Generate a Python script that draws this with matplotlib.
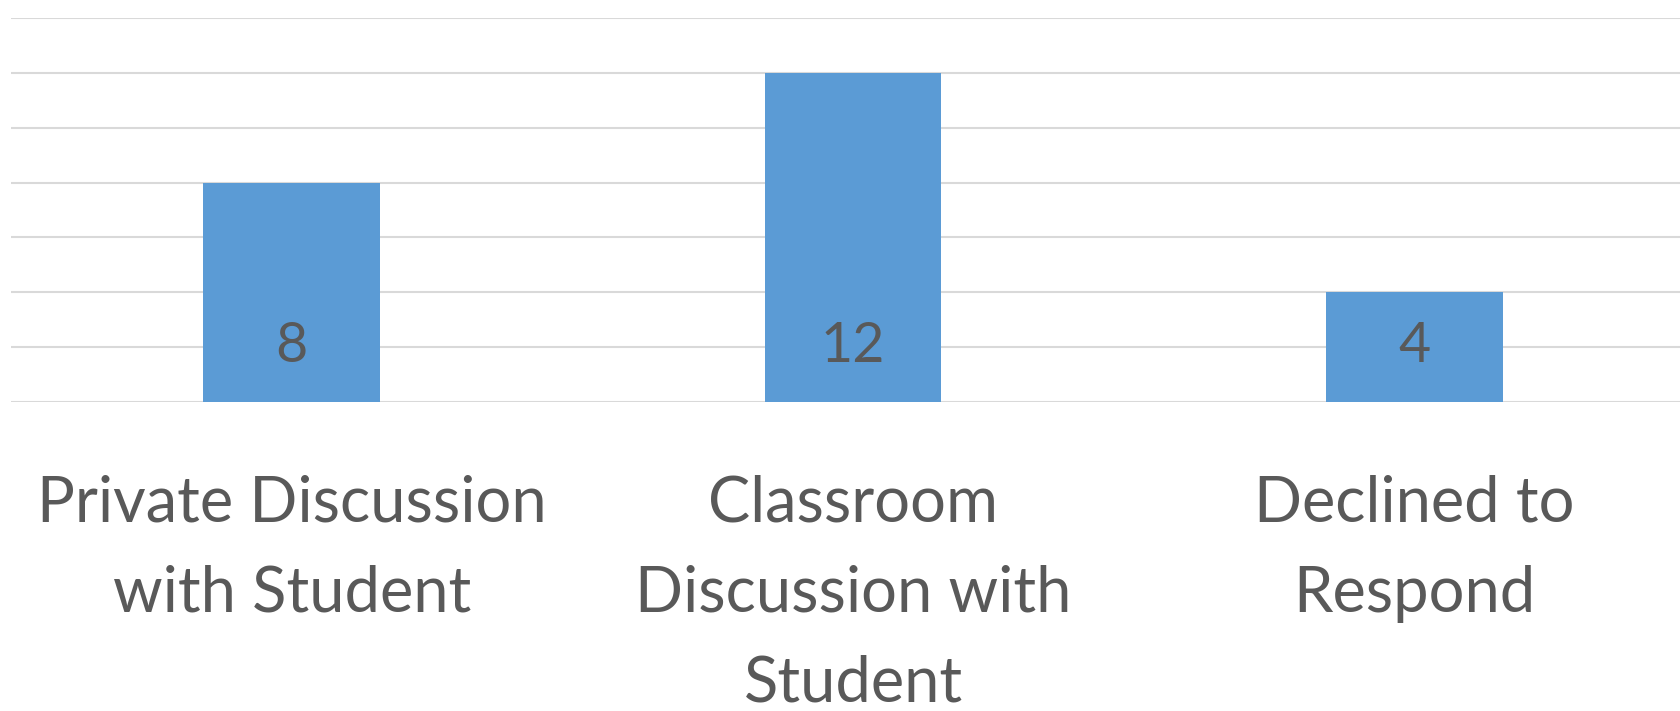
import matplotlib.pyplot as plt
import numpy as np

categories = ['Private Discussion\nwith Student',
              'Classroom\nDiscussion with\nStudent',
              'Declined to\nRespond']
values = [8, 12, 4]
y_ticks = [0, 2, 4, 6, 8, 10, 12, 14]

bar_color = '#5B9BD5'
text_color = '#595959'
grid_color = '#D9D9D9'

plt.rcParams['font.family'] = ['Lato', 'DejaVu Sans']

fig = plt.figure(figsize=(16.8, 7.11), dpi=100)
ax = fig.add_axes([11 / 1680, 309 / 711, 1684 / 1680, 384 / 711])

x = np.arange(len(categories))
ax.bar(x, values, width=0.315, color=bar_color, zorder=3)

for xi, v in zip(x, values):
    ax.annotate(str(v), xy=(xi, 0), xytext=(0, 29), textcoords='offset points',
                ha='center', va='baseline', fontsize=40, color=text_color, zorder=4)

ax.set_xlim(-0.5, len(categories) - 0.5)
ax.set_ylim(0, 14)
ax.set_yticks(y_ticks)
ax.yaxis.grid(True, color=grid_color, linewidth=1.5)
ax.set_axisbelow(True)
ax.tick_params(axis='y', left=False, labelleft=False)
ax.tick_params(axis='x', bottom=False, pad=49)
ax.set_xticks(x)
ax.set_xticklabels(categories, fontsize=45.5, color=text_color, linespacing=1.68)
for s in ax.spines.values():
    s.set_visible(False)

fig.savefig('out.png', dpi=100)
